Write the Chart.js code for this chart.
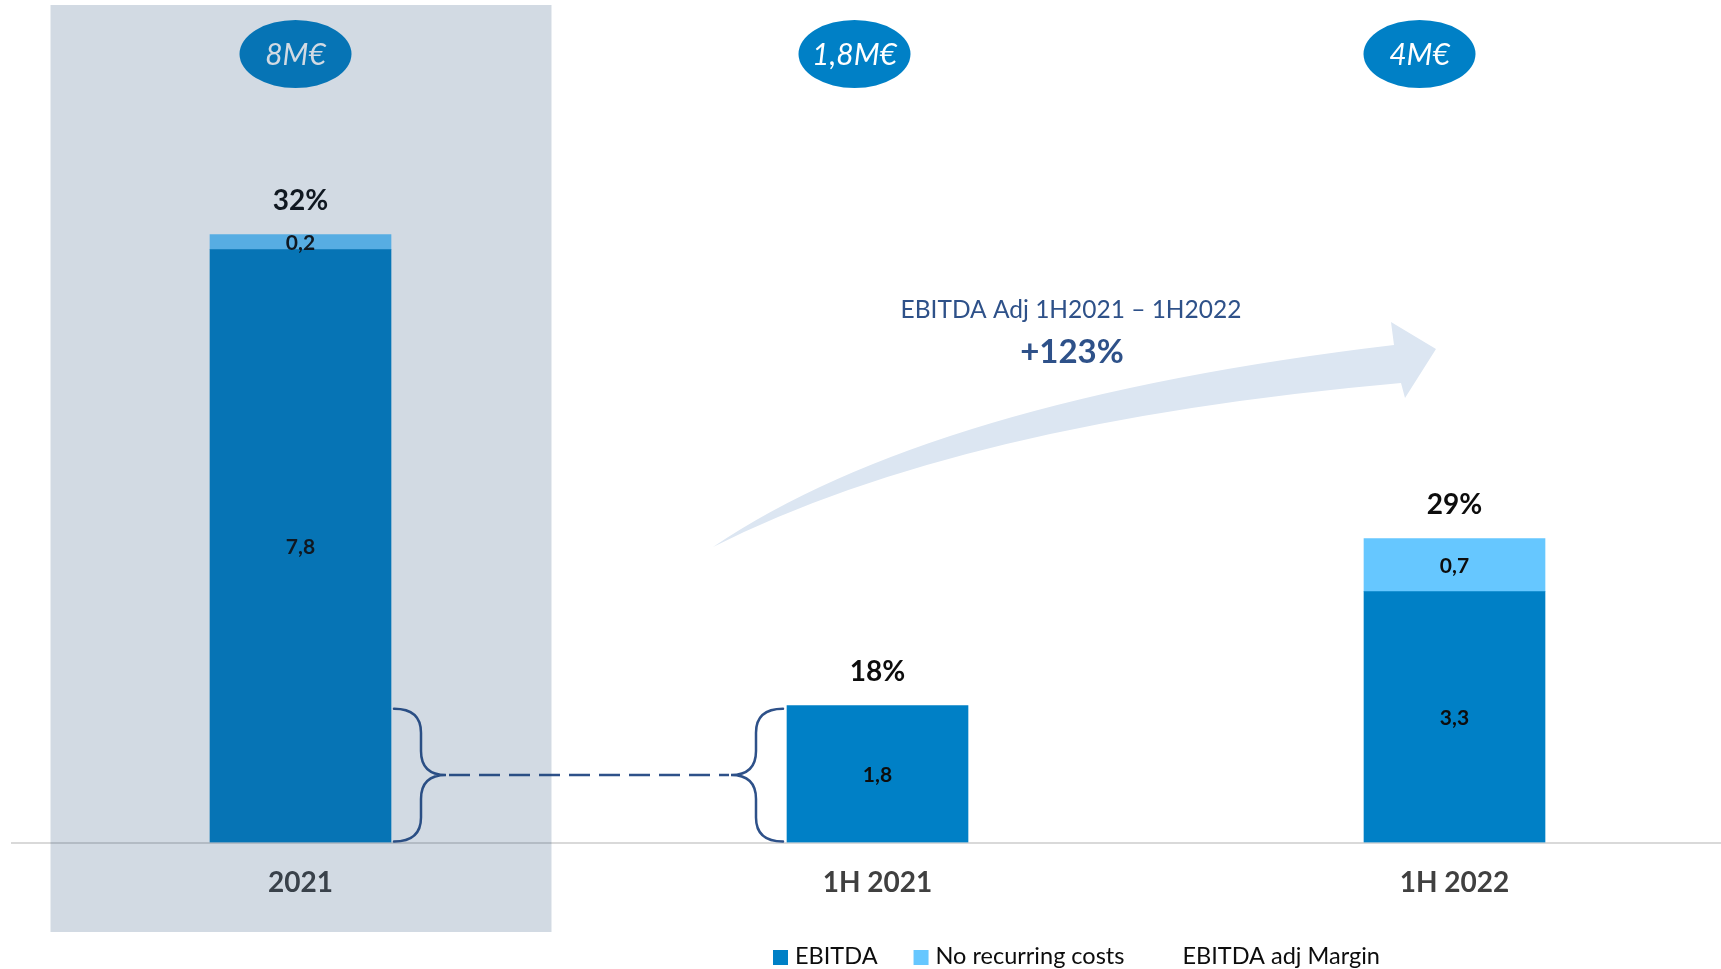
<!DOCTYPE html>
<html>
<head>
<meta charset="utf-8">
<script src="https://cdn.jsdelivr.net/npm/chart.js@4"></script>
<style>
  html, body { margin: 0; padding: 0; background: #fff; overflow: hidden; }
  canvas { display: block; }
</style>
</head>
<body>
<canvas id="chart" width="1743" height="969"></canvas>
<script>
const categories = ['2021', '1H 2021', '1H 2022'];
const ebitda = [7.8, 1.8, 3.3];
const noRecurring = [0.2, null, 0.7];
const adjMargin = [32, 18, 29];
const totals = ['8M€', '1,8M€', '4M€'];
const growthTitle = 'EBITDA Adj 1H2021 – 1H2022';
const growthValue = '+123%';

const BLUE = '#0080C6';
const LIGHT_BLUE = '#66C7FF';
const NAVY = '#2E5189';
const FONT = 'Lato, "Open Sans", sans-serif';

const fmt = v => v.toFixed(1).replace('.', ',');

// curved growth arrow plus its caption, behind the bars
const growthArrow = {
    id: 'growthArrow',
    beforeDatasetsDraw(chart) {
        const ctx = chart.ctx;
        ctx.save();
        ctx.fillStyle = '#DCE6F2';
        ctx.beginPath();
        ctx.moveTo(713, 547);
        ctx.quadraticCurveTo(930, 400, 1394, 345);
        ctx.lineTo(1391, 322);
        ctx.lineTo(1436, 349);
        ctx.lineTo(1405, 398);
        ctx.lineTo(1401, 383);
        ctx.quadraticCurveTo(960, 422, 713, 547);
        ctx.closePath();
        ctx.fill();

        ctx.fillStyle = NAVY;
        ctx.textAlign = 'center';
        ctx.textBaseline = 'alphabetic';
        ctx.font = `24.5px ${FONT}`;
        ctx.fillText(growthTitle, 1071, 318);
        ctx.font = `bold 33px ${FONT}`;
        ctx.fillText(growthValue, 1072, 363);
        ctx.restore();
    }
};

function brace(ctx, xEnd, xMid, xTip, yTop, yBot, r) {
    const yMid = (yTop + yBot) / 2;
    ctx.beginPath();
    ctx.moveTo(xEnd, yTop);
    ctx.quadraticCurveTo(xMid, yTop, xMid, yTop + r);
    ctx.lineTo(xMid, yMid - r);
    ctx.quadraticCurveTo(xMid, yMid, xTip, yMid);
    ctx.quadraticCurveTo(xMid, yMid, xMid, yMid + r);
    ctx.lineTo(xMid, yBot - r);
    ctx.quadraticCurveTo(xMid, yBot, xEnd, yBot);
    ctx.stroke();
}

// values inside the bars, margins above, totals in badges, the 1H bracket
const annotations = {
    id: 'annotations',
    afterDatasetsDraw(chart) {
        const ctx = chart.ctx;
        const x = chart.scales.x;
        const y = chart.scales.y;
        const bars = [0, 1].map(i => chart.getDatasetMeta(i).data);
        ctx.save();
        ctx.textAlign = 'center';
        ctx.textBaseline = 'middle';
        ctx.fillStyle = '#0D0D0D';

        ctx.font = `bold 21px ${FONT}`;
        [ebitda, noRecurring].forEach((values, d) => {
            values.forEach((v, i) => {
                if (v == null) return;
                const el = bars[d][i];
                ctx.fillText(fmt(v), el.x, (el.y + el.base) / 2 + 1);
            });
        });

        ctx.font = `bold 28px ${FONT}`;
        adjMargin.forEach((m, i) => {
            const top = Math.min(...bars.map(b => b[i].y));
            ctx.fillText(m + '%', bars[0][i].x, top - 34);
        });

        const badgeShift = [-5, -23, -35];
        totals.forEach((t, i) => {
            const cx = x.getPixelForValue(i) + badgeShift[i];
            ctx.fillStyle = BLUE;
            ctx.beginPath();
            ctx.ellipse(cx, 54, 56, 34, 0, 0, Math.PI * 2);
            ctx.fill();
            ctx.fillStyle = '#FFFFFF';
            ctx.font = `italic 30px ${FONT}`;
            ctx.textBaseline = 'alphabetic';
            ctx.fillText(t, cx, 65);
        });

        // bracket: 2021 base slice equal to the 1H 2021 EBITDA
        const yTop = y.getPixelForValue(ebitda[1]) + 3;
        const yBot = y.getPixelForValue(0) - 1;
        const a = bars[0][0];
        const b = bars[0][1];
        const aRight = a.x + a.width / 2;
        const bLeft = b.x - b.width / 2;
        ctx.strokeStyle = NAVY;
        ctx.lineWidth = 2.5;
        ctx.lineCap = 'round';
        brace(ctx, aRight + 3, aRight + 30, aRight + 55, yTop, yBot, 24);
        brace(ctx, bLeft - 4, bLeft - 31, bLeft - 56, yTop, yBot, 24);
        ctx.lineCap = 'butt';
        ctx.setLineDash([21, 9]);
        ctx.beginPath();
        ctx.moveTo(aRight + 58, (yTop + yBot) / 2);
        ctx.lineTo(bLeft - 58, (yTop + yBot) / 2);
        ctx.stroke();
        ctx.restore();
    }
};

// shaded full-year panel on top, then the legend row
const panelAndLegend = {
    id: 'panelAndLegend',
    afterDraw(chart) {
        const ctx = chart.ctx;
        const x0 = chart.scales.x.getPixelForValue(0);
        ctx.save();
        ctx.fillStyle = 'rgba(30, 72, 116, 0.2)';
        ctx.fillRect(x0 - 250, 5, 501, 927);

        ctx.font = `23.5px ${FONT}`;
        ctx.textBaseline = 'alphabetic';
        ctx.textAlign = 'left';
        let lx = 773;
        chart.data.datasets.forEach(ds => {
            if (ds.type !== 'line') {
                ctx.fillStyle = ds.backgroundColor;
                ctx.fillRect(lx, 950, 15, 15);
            }
            ctx.fillStyle = '#0D0D0D';
            ctx.fillText(ds.label, lx + 22, 964);
            lx += 22 + ctx.measureText(ds.label).width + 36;
        });
        ctx.restore();
    }
};

new Chart(document.getElementById('chart').getContext('2d'), {
    type: 'bar',
    data: {
        labels: categories,
        datasets: [
            { label: 'EBITDA', data: ebitda, backgroundColor: BLUE, barThickness: 181 },
            { label: 'No recurring costs', data: noRecurring, backgroundColor: LIGHT_BLUE, barThickness: 181 },
            {
                type: 'line', label: 'EBITDA adj Margin', data: adjMargin, yAxisID: 'y1',
                borderColor: 'transparent', backgroundColor: 'transparent', pointRadius: 0, showLine: false
            }
        ]
    },
    options: {
        responsive: false,
        animation: false,
        layout: { padding: { left: 12, top: 6.5, right: 0, bottom: 0 } },
        plugins: { legend: { display: false }, tooltip: { enabled: false } },
        scales: {
            x: {
                stacked: true,
                grid: { display: false, drawTicks: false },
                border: { display: true, color: '#D9D9D9', width: 2 },
                ticks: { color: '#404040', padding: 24, font: { family: FONT, size: 28, weight: 'bold' } },
                afterFit(scale) { scale.height = 126.5; }
            },
            y: { stacked: true, display: false, min: 0, max: 11 },
            y1: { display: false, min: 0, max: 100 }
        }
    },
    plugins: [growthArrow, annotations, panelAndLegend]
});
</script>
</body>
</html>
